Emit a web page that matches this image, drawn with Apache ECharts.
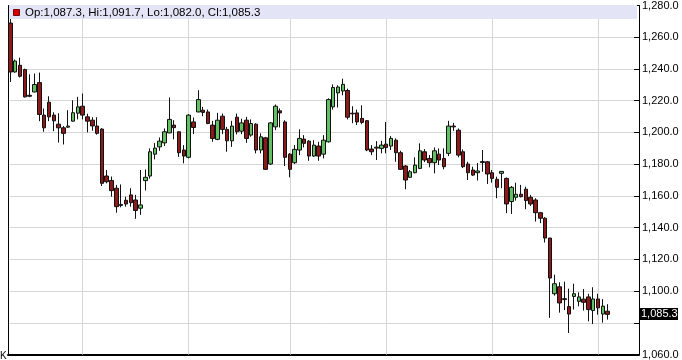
<!DOCTYPE html>
<html>
<head>
<meta charset="utf-8">
<script src="https://cdn.jsdelivr.net/npm/echarts@6/dist/echarts.min.js"></script>
<style>
html,body{margin:0;padding:0;background:#fff;}
#c{width:682px;height:360px;}
</style>
</head>
<body>
<div id="c"></div>
<script>
// ---- data ----
const opens = [1268.9,1238.1,1242.3,1239.6,1223.4,1225.5,1231.4,1210.9,1219.0,1210.9,1205.2,1202.9,1203.3,1207.1,1212.1,1216.5,1209.8,1207.7,1204.0,1202.1,1172.5,1169.7,1164.8,1154.6,1157.2,1160.6,1157.4,1152.2,1169.6,1172.5,1186.3,1190.9,1193.4,1199.7,1204.6,1200.4,1188.9,1184.3,1206.6,1212.9,1214.0,1212.9,1204.6,1195.6,1210.2,1201.9,1194.7,1209.6,1200.8,1207.7,1198.3,1205.2,1188.9,1196.6,1180.1,1203.5,1213.6,1206.6,1186.3,1180.9,1188.9,1195.8,1194.5,1185.1,1191.4,1186.3,1194.1,1216.1,1224.9,1226.1,1226.4,1212.1,1212.3,1208.8,1207.4,1189.5,1190.7,1189.9,1192.6,1191.4,1195.1,1187.2,1178.8,1171.7,1174.6,1177.3,1187.8,1183.6,1180.9,1186.3,1183.6,1186.8,1204.0,1201.4,1187.8,1180.1,1176.3,1174.6,1181.0,1181.5,1174.6,1170.4,1174.2,1171.0,1156.4,1159.1,1161.0,1164.2,1159.1,1157.4,1149.4,1145.9,1133.4,1098.3,1102.7,1095.2,1090.2,1096.6,1093.5,1094.9,1096.3,1087.7,1095.0,1085.5,1087.3];
const highs = [1271.8,1245.9,1247.1,1240.2,1236.6,1237.1,1237.7,1215.1,1222.8,1212.7,1212.1,1204.0,1214.0,1220.3,1222.4,1224.5,1211.8,1209.6,1209.6,1202.7,1176.3,1172.2,1166.9,1167.2,1159.5,1164.8,1160.6,1176.3,1176.6,1189.9,1193.3,1196.8,1202.5,1222.0,1207.7,1200.8,1192.0,1211.5,1209.4,1226.6,1216.1,1214.4,1207.3,1212.3,1211.9,1203.5,1207.3,1211.9,1208.6,1209.8,1208.2,1205.8,1199.4,1197.2,1206.5,1217.6,1215.1,1207.7,1187.0,1192.0,1201.9,1198.3,1195.1,1195.1,1194.1,1198.3,1221.5,1230.3,1229.7,1233.9,1227.6,1216.5,1214.4,1217.1,1207.7,1192.0,1194.5,1194.7,1206.6,1197.7,1196.2,1188.4,1179.4,1176.3,1184.3,1193.1,1189.5,1185.7,1190.5,1189.9,1189.9,1207.3,1206.0,1202.5,1189.3,1181.5,1178.4,1180.7,1188.9,1181.9,1176.3,1172.1,1175.7,1171.6,1166.2,1168.3,1166.9,1165.8,1160.6,1158.5,1149.9,1146.6,1133.5,1110.3,1105.5,1105.9,1101.5,1104.6,1099.2,1101.3,1098.3,1102.4,1098.3,1094.9,1091.7];
const lows = [1231.8,1237.6,1234.6,1222.0,1222.2,1225.3,1207.1,1200.4,1207.1,1200.8,1193.6,1192.4,1202.9,1206.8,1208.2,1208.2,1200.0,1201.1,1198.6,1166.2,1167.9,1159.5,1149.4,1152.8,1153.2,1153.2,1145.5,1148.0,1163.4,1170.9,1183.0,1188.4,1191.4,1199.5,1195.6,1184.6,1180.5,1183.6,1198.9,1212.7,1210.2,1205.2,1194.1,1195.1,1198.9,1187.8,1190.9,1198.7,1198.9,1193.4,1197.3,1186.8,1186.8,1176.3,1179.5,1201.4,1203.1,1178.8,1171.7,1180.1,1185.7,1190.5,1182.1,1184.5,1182.1,1183.6,1193.6,1214.4,1215.7,1223.4,1208.2,1205.8,1204.6,1205.2,1188.2,1185.7,1182.6,1186.8,1186.8,1188.9,1181.5,1176.3,1164.2,1171.3,1174.2,1176.9,1181.3,1178.0,1174.2,1179.4,1176.7,1185.1,1201.0,1184.3,1177.5,1170.0,1172.5,1169.7,1175.2,1167.5,1168.3,1158.5,1164.8,1149.1,1148.6,1157.0,1159.0,1151.6,1153.7,1143.8,1142.8,1130.6,1083.1,1097.1,1086.4,1088.0,1073.6,1088.3,1090.4,1087.7,1080.9,1079.2,1085.1,1080.1,1082.0];
const closes = [1238.1,1245.0,1235.4,1222.4,1222.8,1230.2,1211.3,1202.9,1209.8,1207.3,1202.9,1199.4,1204.0,1212.4,1216.1,1210.9,1207.1,1204.1,1199.4,1167.9,1168.9,1163.3,1153.2,1154.0,1154.9,1155.7,1150.8,1154.3,1171.7,1187.8,1190.1,1194.5,1200.4,1208.2,1203.0,1187.2,1185.1,1210.9,1203.1,1220.7,1212.6,1205.6,1196.2,1207.7,1201.9,1194.7,1204.0,1200.4,1206.0,1196.2,1205.6,1188.9,1197.2,1176.7,1206.0,1216.5,1212.3,1184.3,1176.7,1189.3,1196.2,1193.1,1185.1,1192.0,1185.1,1195.1,1220.7,1228.3,1228.6,1230.3,1209.6,1211.7,1206.6,1206.3,1188.9,1187.8,1190.1,1192.0,1190.5,1196.2,1187.2,1176.7,1170.0,1175.2,1179.4,1188.4,1182.6,1180.9,1188.4,1182.6,1178.4,1204.0,1203.5,1185.7,1178.4,1174.6,1173.1,1175.7,1181.6,1173.8,1171.0,1165.4,1175.4,1154.9,1165.4,1161.0,1159.5,1157.0,1154.9,1149.4,1145.9,1133.4,1108.2,1104.6,1092.5,1094.6,1085.5,1098.3,1096.3,1092.9,1088.3,1095.0,1089.4,1090.5,1085.3];
const slotCount = 131;                 // category slots on the axis (last ones empty)
const monthStarts = [15, 37, 58, 78, 100, 122]; // vertical grid lines (slot indices)
const yTicks = {min: 1060, max: 1280, step: 20};

// ---- build ----
const categories = [];
for (let i = 0; i < slotCount; i++) categories.push('d' + i);
const ohlc = opens.map((o, i) => [o, closes[i], lows[i], highs[i]]);
const fmt = v => Number(v).toLocaleString('en-US', {minimumFractionDigits: 1, maximumFractionDigits: 1});
const last = opens.length - 1;
const lastClose = closes[last];
const headerText = 'Op:' + fmt(opens[last]) + ', Hi:' + fmt(highs[last]) + ', Lo:' + fmt(lows[last]) + ', Cl:' + fmt(lastClose);
const FONT = '"Liberation Sans", Arial, sans-serif';

const chart = echarts.init(document.getElementById('c'), null, {renderer: 'canvas'});
chart.setOption({
  animation: false,
  backgroundColor: '#ffffff',
  grid: {left: 8, right: 43, top: 5, bottom: 5, containLabel: false},
  xAxis: {
    type: 'category', data: categories, boundaryGap: true,
    axisLine: {show: true, lineStyle: {color: '#000', width: 2}},
    axisTick: {show: false}, axisLabel: {show: false}, splitLine: {show: false}
  },
  yAxis: [{
    type: 'value', position: 'right', min: yTicks.min, max: yTicks.max, interval: yTicks.step,
    axisLine: {show: true, lineStyle: {color: '#000', width: 1}},
    axisTick: {show: true, inside: true, length: 5, lineStyle: {color: '#000'}},
    axisLabel: {
      show: true, margin: 3, color: '#000', fontSize: 11, fontFamily: FONT,
      formatter: v => (Math.abs(v - lastClose) < 8 ? '' : fmt(v))
    },
    splitLine: {show: true, lineStyle: {color: '#d6d6d6', width: 1}}
  }, {
    type: 'value', position: 'left', min: yTicks.min, max: yTicks.max,
    axisLine: {show: true, lineStyle: {color: '#000', width: 1}},
    axisTick: {show: false}, axisLabel: {show: false}, splitLine: {show: false}
  }],
  series: [{
    type: 'line', data: [], z: 1, silent: true,
    markLine: {
      silent: true, symbol: 'none', animation: false,
      label: {show: false},
      lineStyle: {color: '#d6d6d6', width: 1, type: 'solid'},
      data: monthStarts.map(i => ({xAxis: categories[i]}))
    }
  }, {
    type: 'candlestick', data: ohlc, z: 5, barWidth: 4,
    itemStyle: {
      color: '#62c062', color0: '#8c1a1a',
      borderColor: '#111', borderColor0: '#111', borderWidth: 1
    }
  }]
});

// price box on the right axis, placed through the axis scale
const py = chart.convertToPixel({yAxisIndex: 0}, lastClose);
chart.setOption({
  graphic: [
    {type: 'rect', z: 100, shape: {x: 9, y: 5, width: 628, height: 14}, style: {fill: '#e4e4f7'}},
    {type: 'rect', z: 101, shape: {x: 13.5, y: 9.5, width: 6, height: 6}, style: {fill: '#d40000', stroke: '#700', lineWidth: 1}},
    {type: 'text', z: 101, x: 25, y: 12.5, style: {text: headerText, fill: '#000', font: '11.5px ' + FONT, verticalAlign: 'middle'}},
    {type: 'text', z: 101, x: 0, y: 356, style: {text: 'K', fill: '#000', font: '10px ' + FONT, verticalAlign: 'middle'}},
    {type: 'rect', z: 101, shape: {x: 640, y: Math.round(py) - 6, width: 38, height: 12}, style: {fill: '#000'}},
    {type: 'text', z: 102, x: 641, y: Math.round(py), style: {text: fmt(lastClose), fill: '#fff', font: '11px ' + FONT, verticalAlign: 'middle'}}
  ]
});
</script>
</body>
</html>
